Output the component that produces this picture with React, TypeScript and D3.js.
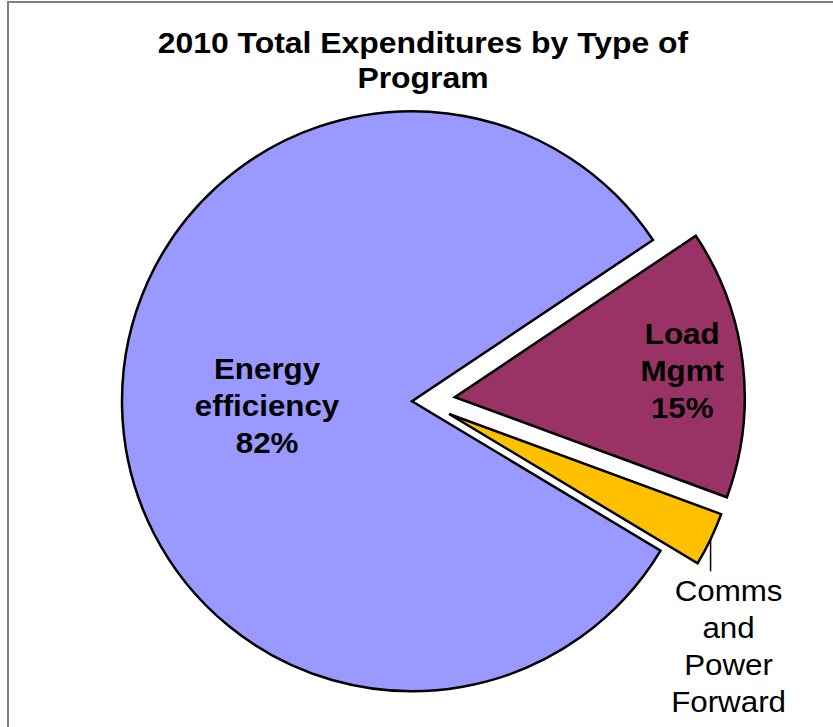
import { useEffect, useRef } from 'react';
import * as d3 from 'd3';

// chart data
const categories = ['Energy efficiency', 'Load Mgmt', 'Comms and Power Forward'];
const shares = [82, 15, 3];
const labelLines = [
    ['Energy', 'efficiency'],
    ['Load', 'Mgmt'],
    ['Comms', 'and', 'Power', 'Forward'],
];
const titleLines = ['2010 Total Expenditures by Type of', 'Program'];

// styles
const colors = ['#9999FF', '#993366', '#FFC000'];
const explode = [10, 33, 30];

const App = () => {
    const ref = useRef(null);

    useEffect(() => {
        const svg = d3.select(ref.current);
        svg.selectAll('*').remove();

        const width = 833;
        const height = 727;
        const cx = 422;
        const cy = 401;
        const radius = 290;
        const stretch = 1.08; // text in the original is a little wide
        const lineH = 37;
        const fontSize = 29;
        const font = 'Liberation Sans, Arial, sans-serif';

        svg.attr('width', width).attr('height', height);

        svg.append('rect').attr('width', width).attr('height', height).attr('fill', '#fff');

        // frame
        svg.append('path')
            .attr('d', `M8,${height + 5} V2 H${width + 5}`)
            .attr('fill', 'none')
            .attr('stroke', '#808080')
            .attr('stroke-width', 2);

        // title
        const title = svg.append('g').attr('font-family', font).attr('font-weight', 'bold').attr('font-size', fontSize);
        titleLines.forEach((t, i) => {
            title.append('text')
                .attr('transform', `translate(${cx + 1},${53 + i * 35}) scale(1.1,1)`)
                .attr('text-anchor', 'middle')
                .text(t);
        });

        const start = 2.112;
        const pie = d3.pie<number>().sort(null).value(d => d)
            .startAngle(start).endAngle(start + 2 * Math.PI);
        const arcs = pie(shares);

        const arc = d3.arc<any>().innerRadius(0).outerRadius(radius);

        const g = svg.append('g').attr('transform', `translate(${cx},${cy})`);

        const offset = (d, i) => {
            const mid = (d.startAngle + d.endAngle) / 2;
            return [explode[i] * Math.sin(mid), -explode[i] * Math.cos(mid)];
        };

        g.selectAll('path.slice')
            .data(arcs)
            .join('path')
            .attr('class', 'slice')
            .attr('transform', (d, i) => `translate(${offset(d, i)})`)
            .attr('d', arc)
            .attr('fill', (d, i) => colors[i])
            .attr('stroke', '#000')
            .attr('stroke-width', 2.5)
            .attr('stroke-linejoin', 'miter');

        const total = d3.sum(shares);
        const pct = v => `${Math.round((v / total) * 100)}%`;

        const drawBlock = (x, yFirst, lines, bold) => {
            const t = g.append('g').attr('font-family', font).attr('font-size', fontSize)
                .attr('font-weight', bold ? 'bold' : 'normal');
            lines.forEach((l, k) => {
                t.append('text')
                    .attr('transform', `translate(${x},${yFirst + k * lineH}) scale(${stretch},1)`)
                    .attr('text-anchor', 'middle')
                    .text(l);
            });
        };

        // inside labels
        const insideK = [0.5, 0.79];
        arcs.slice(0, 2).forEach((d, i) => {
            const [ox, oy] = offset(d, i);
            const r = radius * insideK[i];
            const la = d3.arc<any>().innerRadius(r).outerRadius(r);
            const [lx, ly] = la.centroid(d);
            const lines = [...labelLines[i], pct(d.value)];
            const first = ly + oy + 11 - ((lines.length - 1) / 2) * lineH;
            drawBlock(lx + ox, first, lines, true);
        });

        // outside label with leader line
        const d = arcs[2];
        const [ox, oy] = offset(d, 2);
        const mid = (d.startAngle + d.endAngle) / 2;
        const px = ox + radius * Math.sin(mid);
        const py = oy - radius * Math.cos(mid);
        g.append('line')
            .attr('x1', px).attr('y1', py)
            .attr('x2', px).attr('y2', py + 32)
            .attr('stroke', '#000')
            .attr('stroke-width', 1.5);
        drawBlock(px + 18, py + 62, [...labelLines[2], pct(d.value)], false);
    }, []);

    return <svg ref={ref} style={{ position: 'absolute', left: 0, top: 0 }} />;
};

export default App;
